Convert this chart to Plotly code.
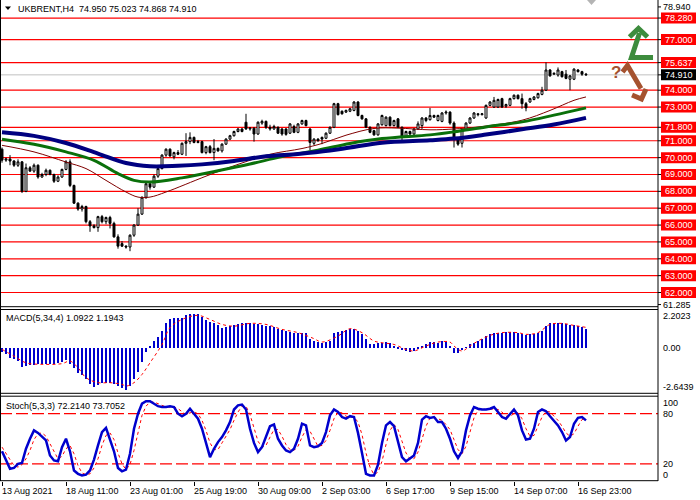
import plotly.graph_objects as go

W, H = 700, 500
FONT = 'Liberation Sans, Arial, sans-serif'

# UKBRENT H4 (O, H, L, C)
opens = [70.50, 69.85, 69.92, 69.80, 69.55, 69.75, 68.00, 69.40, 69.20, 69.55,
         68.85, 69.00, 69.25, 69.00, 68.60, 68.85, 69.30, 69.75, 68.35, 67.30,
         66.95, 67.10, 66.20, 65.95, 65.85, 66.50, 66.20, 66.45, 66.10, 65.30,
         64.90, 64.75, 64.70, 65.40, 66.00, 66.65, 67.65, 68.45, 68.25, 68.90,
         69.35, 70.15, 70.50, 70.05, 70.30, 70.20, 70.85, 70.95, 71.20, 70.90,
         70.95, 70.30, 70.65, 70.30, 70.55, 70.40, 70.80, 71.10, 71.30, 71.55,
         71.70, 72.10, 71.70, 71.75, 71.40, 72.05, 72.15, 71.80, 71.70, 71.80,
         71.70, 71.70, 71.45, 71.85, 71.50, 72.00, 72.20, 71.70, 70.85, 71.10,
         71.20, 71.15, 71.45, 71.80, 73.20, 72.75, 72.70, 72.75, 72.80, 73.30,
         72.50, 72.30, 71.80, 71.60, 71.35, 71.95, 71.90, 72.40, 71.90, 72.30,
         71.80, 71.25, 71.55, 71.40, 71.70, 71.90, 72.35, 72.25, 72.50, 72.20,
         72.15, 72.65, 72.70, 72.05, 71.10, 70.85, 71.65, 72.05, 72.35, 72.60,
         72.55, 72.35, 73.10, 73.00, 73.00, 73.50, 73.05, 73.10, 73.50, 73.70,
         73.50, 73.20, 73.30, 73.45, 73.55, 73.75, 74.00, 75.20, 74.95, 74.90,
         75.10, 74.95, 74.65, 74.65, 75.20, 75.10, 74.950]
highs = [70.60, 70.00, 70.15, 69.85, 69.90, 69.80, 69.65, 69.50, 69.65, 69.60,
         69.10, 69.35, 69.30, 69.05, 68.95, 69.35, 69.85, 69.90, 68.40, 67.35,
         67.20, 67.15, 66.30, 66.05, 66.55, 66.60, 66.50, 66.55, 66.20, 65.45,
         65.05, 64.80, 65.45, 66.05, 67.00, 67.70, 68.50, 68.60, 69.00, 69.40,
         70.20, 70.55, 70.55, 70.35, 70.45, 70.90, 71.45, 71.50, 71.25, 71.05,
         71.00, 70.70, 70.75, 71.10, 70.60, 70.85, 71.15, 71.35, 71.60, 71.75,
         71.75, 72.60, 71.80, 71.80, 72.15, 72.25, 72.20, 71.95, 71.95, 71.85,
         71.75, 71.75, 72.05, 71.95, 72.05, 72.25, 72.25, 71.75, 71.15, 71.15,
         71.25, 71.50, 71.85, 73.25, 73.25, 72.80, 72.85, 72.95, 73.35, 73.35,
         72.55, 72.35, 71.85, 71.65, 72.05, 72.55, 72.45, 72.45, 72.25, 72.35,
         71.85, 71.60, 71.60, 71.75, 72.15, 72.40, 72.40, 72.95, 72.55, 72.55,
         72.70, 72.80, 72.75, 72.15, 71.15, 71.70, 72.10, 72.40, 72.70, 72.65,
         72.65, 73.15, 73.35, 73.60, 73.50, 73.55, 73.20, 73.55, 73.75, 73.75,
         73.80, 73.30, 73.55, 73.65, 73.85, 74.20, 75.65, 75.25, 75.05, 75.35,
         75.15, 75.20, 74.90, 75.30, 75.25, 75.15, 75.023]
lows = [69.70, 69.75, 69.55, 69.45, 69.45, 67.90, 67.95, 69.15, 69.10, 68.75,
        68.80, 68.90, 68.95, 68.50, 68.55, 68.80, 69.25, 68.25, 67.25, 66.85,
        66.80, 66.10, 65.60, 65.80, 65.60, 66.10, 66.05, 65.80, 65.25, 64.60,
        64.70, 64.60, 64.45, 65.30, 65.95, 66.60, 67.55, 68.10, 68.20, 68.80,
        69.30, 70.05, 70.05, 69.90, 70.15, 70.15, 70.10, 70.80, 70.85, 70.85,
        70.25, 70.20, 70.25, 69.85, 70.35, 70.30, 70.75, 71.05, 71.25, 71.50,
        71.50, 71.65, 71.60, 70.95, 71.35, 71.95, 71.70, 71.60, 71.65, 71.40,
        71.30, 71.30, 71.40, 71.45, 71.45, 71.95, 71.85, 70.45, 70.75, 70.95,
        70.80, 71.10, 71.40, 71.75, 72.50, 72.55, 72.65, 72.70, 72.75, 72.45,
        72.25, 71.75, 71.45, 71.30, 71.30, 71.90, 71.85, 71.85, 71.85, 71.75,
        70.90, 71.20, 71.35, 71.35, 71.65, 71.70, 72.10, 72.20, 72.35, 72.15,
        72.10, 72.55, 71.95, 70.60, 70.70, 70.60, 71.60, 72.00, 72.30, 72.45,
        72.50, 72.30, 73.05, 72.95, 72.95, 72.95, 72.95, 73.05, 73.45, 73.45,
        72.90, 72.75, 73.25, 73.40, 73.50, 73.70, 73.95, 74.80, 74.90, 74.80,
        74.75, 74.65, 74.00, 74.60, 75.05, 74.85, 74.868]
closes = [69.85, 69.92, 69.80, 69.55, 69.75, 68.00, 69.40, 69.20, 69.55, 68.85,
          69.00, 69.25, 69.00, 68.60, 68.85, 69.30, 69.75, 68.35, 67.30, 66.95,
          67.10, 66.20, 65.95, 65.85, 66.50, 66.20, 66.45, 66.10, 65.30, 64.75,
          64.75, 64.70, 65.40, 66.00, 66.65, 67.65, 68.45, 68.25, 68.90, 69.35,
          70.15, 70.50, 70.10, 70.30, 70.20, 70.85, 70.95, 71.20, 70.90, 70.95,
          70.30, 70.65, 70.30, 70.55, 70.40, 70.80, 71.10, 71.30, 71.55, 71.70,
          71.55, 71.70, 71.75, 71.40, 72.10, 72.15, 71.80, 71.70, 71.85, 71.45,
          71.40, 71.38, 72.00, 71.50, 72.00, 72.20, 71.90, 70.90, 71.10, 71.00,
          71.10, 71.45, 71.80, 73.20, 72.55, 72.60, 72.80, 72.90, 73.30, 72.50,
          72.30, 71.80, 71.50, 71.35, 72.00, 72.50, 72.40, 71.90, 72.20, 71.80,
          71.25, 71.55, 71.40, 71.70, 72.00, 72.35, 72.20, 72.50, 72.40, 72.50,
          72.65, 72.70, 72.05, 71.10, 70.80, 71.65, 72.05, 72.35, 72.65, 72.55,
          72.60, 73.10, 73.30, 73.40, 73.45, 73.00, 73.15, 73.50, 73.70, 73.50,
          73.20, 72.95, 73.50, 73.60, 73.80, 74.00, 75.20, 74.85, 75.00, 75.20,
          74.80, 74.70, 74.85, 75.25, 75.10, 74.95, 74.910]

# médias móveis (pontos lidos ao longo das curvas)
ma_slow_idx = [0, 8, 16, 24, 31, 37, 44, 50, 58, 66, 74, 82, 87, 95, 107, 113, 121, 130, 138, 146]
ma_slow = [71.50, 71.29, 70.87, 70.24, 69.68, 69.49, 69.52, 69.60, 69.80, 70.08,
           70.22, 70.42, 70.60, 70.88, 71.03, 71.13, 71.37, 71.68, 71.96, 72.36]
ma_mid_idx = [0, 8, 16, 23, 29, 33, 37, 45, 54, 62, 70, 79, 87, 95, 107, 113, 121, 130, 138, 146]
ma_mid = [71.09, 70.79, 70.34, 69.84, 69.05, 68.65, 68.55, 68.80, 69.22, 69.62,
          70.06, 70.44, 70.84, 71.13, 71.35, 71.53, 71.82, 72.12, 72.52, 72.95]
ma_fast_idx = [0, 8, 16, 21, 26, 31, 34, 37, 41, 51, 59, 67, 75, 80, 86, 93, 99,
               107, 113, 119, 130, 137, 143, 146]
ma_fast = [70.73, 70.34, 69.74, 69.35, 68.65, 67.96, 67.66, 67.66, 67.96, 68.90,
           69.60, 70.20, 70.54, 70.84, 71.33, 71.73, 71.75, 71.65, 71.70, 71.82,
           72.22, 72.80, 73.40, 73.60]

# MACD(5,34,4)
macd_hist = [-0.25, -0.39, -0.58, -0.68, -0.78, -1.11, -1.07, -0.99, -0.99, -0.97,
             -0.97, -0.93, -0.97, -0.97, -0.91, -0.84, -0.74, -0.97, -1.21, -1.46,
             -1.61, -1.85, -2.14, -2.28, -2.20, -2.08, -2.08, -2.04, -2.14, -2.24,
             -2.33, -2.47, -2.24, -1.85, -1.42, -0.84, -0.25, 0.10, 0.39, 0.64,
             0.97, 1.42, 1.65, 1.71, 1.71, 1.75, 1.89, 1.95, 1.98, 1.95,
             1.81, 1.61, 1.50, 1.42, 1.30, 1.17, 1.23, 1.26, 1.34, 1.40,
             1.42, 1.42, 1.42, 1.40, 1.36, 1.30, 1.26, 1.26, 1.23, 1.11,
             1.03, 0.97, 0.91, 0.88, 0.88, 0.88, 0.84, 0.49, 0.39, 0.33,
             0.29, 0.33, 0.39, 0.84, 0.93, 0.97, 1.03, 1.11, 1.07, 0.97,
             0.78, 0.49, 0.19, 0.23, 0.29, 0.29, 0.33, 0.29, 0.10, -0.10,
             -0.14, -0.19, -0.25, -0.19, -0.06, 0.10, 0.23, 0.33, 0.33, 0.29,
             0.39, 0.33, 0.06, -0.29, -0.29, -0.14, 0.04, 0.23, 0.29, 0.39,
             0.53, 0.68, 0.82, 0.88, 0.84, 0.88, 0.91, 0.93, 0.91, 0.88,
             0.78, 0.72, 0.78, 0.82, 0.88, 0.97, 1.26, 1.42, 1.42, 1.46,
             1.42, 1.38, 1.34, 1.30, 1.26, 1.23, 1.09]
macd_sig_idx = [0, 3, 6, 10, 15, 17, 19, 21, 24, 27, 30, 31, 33, 35, 37, 40, 42, 45,
                49, 52, 55, 58, 62, 66, 70, 74, 78, 80, 84, 87, 90, 93, 95, 98, 101,
                103, 106, 109, 112, 113, 115, 117, 119, 122, 125, 129, 131, 134, 137,
                140, 143, 146]
macd_sig = [-0.10, -0.49, -0.88, -0.97, -0.93, -0.78, -1.17, -1.75, -2.04, -2.04,
            -2.14, -2.24, -2.04, -1.56, -0.88, 0.19, 1.17, 1.65, 1.89, 1.65,
            1.36, 1.26, 1.42, 1.36, 1.07, 0.88, 0.53, 0.33, 0.68, 1.11,
            0.88, 0.39, 0.29, 0.19, -0.10, -0.19, 0.10, 0.33, 0.33, 0.10,
            -0.19, 0.10, 0.39, 0.72, 0.88, 0.88, 0.78, 0.88, 1.36, 1.42,
            1.30, 1.19]

# Stoch(5,3,3)
stoch_main = [35, 25, 14, 15, 20, 21, 38, 50, 60, 57,
              53, 48, 30, 24, 23, 40, 50, 35, 12, 8,
              6, 7, 12, 25, 42, 58, 63, 50, 35, 15,
              11, 13, 32, 62, 80, 92, 95, 95, 92, 89,
              88, 88, 89, 88, 80, 77, 80, 86, 80, 74,
              62, 45, 28, 38, 46, 52, 60, 70, 85, 90,
              91, 85, 62, 45, 34, 40, 52, 65, 67, 50,
              42, 36, 34, 38, 50, 68, 66, 42, 40, 41,
              45, 58, 78, 85, 82, 76, 74, 77, 76, 57,
              33, 8, 6, 6, 19, 45, 66, 70, 65, 48,
              28, 23, 26, 30, 45, 73, 77, 75, 76, 70,
              70, 62, 50, 35, 27, 35, 60, 78, 88, 86,
              85, 85, 86, 88, 82, 76, 74, 80, 85, 78,
              60, 49, 50, 62, 82, 85, 83, 77, 72, 66,
              58, 48, 52, 68, 75, 76, 72]
stoch_sig = [40, 32, 25, 18, 16, 19, 26, 36, 49, 56,
             57, 53, 44, 34, 26, 29, 38, 42, 32, 18,
             9, 7, 8, 15, 26, 42, 54, 57, 49, 33,
             20, 13, 19, 36, 58, 78, 89, 94, 94, 92,
             90, 88, 88, 88, 86, 82, 79, 81, 82, 80,
             72, 60, 45, 37, 37, 45, 53, 61, 72, 82,
             89, 89, 79, 64, 47, 40, 42, 52, 61, 61,
             53, 43, 37, 36, 41, 52, 61, 59, 49, 41,
             42, 48, 60, 74, 82, 81, 77, 76, 76, 70,
             55, 33, 16, 7, 10, 23, 43, 60, 67, 61,
             47, 33, 26, 26, 34, 49, 65, 75, 76, 74,
             72, 67, 61, 49, 37, 32, 41, 58, 75, 84,
             86, 85, 85, 86, 85, 82, 77, 77, 80, 81,
             74, 62, 53, 54, 65, 76, 83, 82, 77, 72,
             65, 57, 53, 56, 65, 73, 74]

levels = [78.28, 77.0, 75.637, 74.0, 73.0, 71.8, 71.0, 70.0, 69.0, 68.0,
          67.0, 66.0, 65.0, 64.0, 63.0, 62.0]
last_price = 74.91
price_top, price_bottom = 78.94, 61.285
macd_max, macd_min = 2.2023, -2.6439

tick_idx = [0, 16, 32, 48, 64, 80, 96, 112, 128, 144]
tick_labels = ['13 Aug 2021', '18 Aug 11:00', '23 Aug 01:00', '25 Aug 19:00',
               '30 Aug 09:00', '2 Sep 03:00', '6 Sep 17:00', '9 Sep 15:00',
               '14 Sep 07:00', '16 Sep 23:00']

bars = list(range(len(closes)))

AX = 658  # linha do eixo de preços (px)


def fx(x):
    return x / W


def fy(y):
    return 1 - y / H


def path(pts):
    return 'M ' + ' L '.join(f'{fx(x):.4f},{fy(y):.4f}' for x, y in pts)


fig = go.Figure()

fig.add_trace(go.Candlestick(
    x=bars, open=opens, high=highs, low=lows, close=closes,
    increasing=dict(line=dict(color='black', width=1), fillcolor='white'),
    decreasing=dict(line=dict(color='black', width=1), fillcolor='black'),
    whiskerwidth=0, hoverinfo='skip', xaxis='x', yaxis='y'))
fig.add_trace(go.Scatter(x=ma_fast_idx, y=ma_fast, mode='lines',
                         line=dict(color='#800000', width=1, shape='spline'), xaxis='x', yaxis='y'))
fig.add_trace(go.Scatter(x=ma_mid_idx, y=ma_mid, mode='lines',
                         line=dict(color='#0a700a', width=3, shape='spline'), xaxis='x', yaxis='y'))
fig.add_trace(go.Scatter(x=ma_slow_idx, y=ma_slow, mode='lines',
                         line=dict(color='#000080', width=4, shape='spline'), xaxis='x', yaxis='y'))

fig.add_trace(go.Bar(x=bars, y=macd_hist, width=0.72, marker=dict(color='#0000CD', line=dict(width=0)),
                     xaxis='x2', yaxis='y2'))
fig.add_trace(go.Scatter(x=macd_sig_idx, y=macd_sig, mode='lines',
                         line=dict(color='red', width=1, dash='dot', shape='spline'), xaxis='x2', yaxis='y2'))

fig.add_trace(go.Scatter(x=bars, y=stoch_sig, mode='lines',
                         line=dict(color='red', width=1, dash='dot'), xaxis='x3', yaxis='y3'))
fig.add_trace(go.Scatter(x=bars, y=stoch_main, mode='lines',
                         line=dict(color='#0000CD', width=2.5), xaxis='x3', yaxis='y3'))

shapes = []
ann = []

# linhas horizontais (níveis)
for v in levels:
    shapes.append(dict(type='line', xref='paper', x0=0, x1=fx(AX), yref='y', y0=v, y1=v,
                       line=dict(color='red', width=1.2), layer='below'))
shapes.append(dict(type='line', xref='paper', x0=0, x1=fx(AX), yref='y', y0=last_price, y1=last_price,
                   line=dict(color='#c0c0c0', width=1), layer='below'))
for v in (80, 20):
    shapes.append(dict(type='line', xref='paper', x0=0, x1=fx(AX), yref='y3', y0=v, y1=v,
                       line=dict(color='red', width=1.2, dash='12px,4px'), layer='below'))

# molduras dos painéis
for yy in (306.7, 309.5, 393.3, 396.2, 480.7):
    shapes.append(dict(type='line', xref='paper', yref='paper', x0=0, x1=fx(AX), y0=fy(yy), y1=fy(yy),
                       line=dict(color='black', width=1)))
for xx in (0.5, AX):
    shapes.append(dict(type='line', xref='paper', yref='paper', x0=fx(xx), x1=fx(xx), y0=fy(0), y1=fy(481),
                       line=dict(color='black', width=1)))


def tag(v, text, bg):
    shapes.append(dict(type='rect', xref='paper', x0=fx(661), x1=fx(696), yref='y',
                       ysizemode='pixel', yanchor=v, y0=-5.5, y1=5.5,
                       fillcolor=bg, line=dict(width=0)))
    ann.append(dict(xref='paper', x=fx(678.5), yref='y', y=v, text=text, showarrow=False,
                    xanchor='center', yanchor='middle', font=dict(color='white', size=9, family=FONT)))


def tick(v, yref):
    shapes.append(dict(type='line', xref='paper', x0=fx(AX), x1=fx(661), yref=yref, y0=v, y1=v,
                       line=dict(color='black', width=1)))


def label(v, yref, text, shift=0):
    ann.append(dict(xref='paper', x=fx(661), yref=yref, y=v, yshift=shift, text=text, showarrow=False,
                    xanchor='left', yanchor='middle', font=dict(color='black', size=9, family=FONT)))


for v in levels:
    tick(v, 'y')
    tag(v, f'{v:.3f}', '#ff0000')
tick(last_price, 'y')
tag(last_price, f'{last_price:.3f}', 'black')
for v in (price_top, price_bottom):
    tick(v, 'y')
    label(v, 'y', f'{v:.3f}')

label(macd_max, 'y2', f'{macd_max:.4f}', -6)
label(0, 'y2', '0.00')
label(macd_min, 'y2', f'{macd_min:.4f}', 6)
label(100, 'y3', '100', -6)
label(80, 'y3', '80')
label(20, 'y3', '20')
label(0, 'y3', '0', 6)

# eixo do tempo
for i, t in zip(tick_idx, tick_labels):
    ann.append(dict(xref='x3', x=i, xshift=-2, yref='paper', y=fy(490.5), text=t, showarrow=False,
                    xanchor='left', yanchor='middle', font=dict(color='black', size=9, family=FONT)))

# títulos
ann.append(dict(xref='paper', x=fx(16), yref='paper', y=fy(8.5), text='UKBRENT,H4  74.950 75.023 74.868 74.910',
                showarrow=False, xanchor='left', yanchor='middle', font=dict(color='black', size=9, family=FONT)))
shapes.append(dict(type='path', xref='paper', yref='paper', path=path([(5, 6.5), (11, 6.5), (8, 10)]) + ' Z',
                   fillcolor='black', line=dict(width=0)))
ann.append(dict(xref='paper', x=fx(4), yref='paper', y=fy(318), text='MACD(5,34,4) 1.0922 1.1943',
                showarrow=False, xanchor='left', yanchor='middle', font=dict(color='black', size=9, family=FONT)))
ann.append(dict(xref='paper', x=fx(4), yref='paper', y=fy(405.5), text='Stoch(5,3,3) 72.2140 73.7052',
                showarrow=False, xanchor='left', yanchor='middle', font=dict(color='black', size=9, family=FONT)))

# marcador de deslocamento do gráfico
shapes.append(dict(type='path', xref='paper', yref='paper', path=path([(587, 0), (596, 0), (591.5, 5)]) + ' Z',
                   fillcolor='#b4b4b4', line=dict(width=0)))

# setas de cenário
green = '#3d8c3d'
brown = '#a5522f'
shapes.append(dict(type='path', xref='paper', yref='paper', path=path([(629.5, 37), (638.5, 28.5), (647.5, 37)]),
                   line=dict(color=green, width=5)))
shapes.append(dict(type='path', xref='paper', yref='paper', path=path([(639.5, 33), (631.5, 57.5), (653, 57.5)]),
                   line=dict(color=green, width=5)))
shapes.append(dict(type='path', xref='paper', yref='paper', path=path([(622.5, 72), (627.5, 65.5), (641, 88.5)]),
                   line=dict(color=brown, width=5)))
shapes.append(dict(type='path', xref='paper', yref='paper', path=path([(632, 95), (641.5, 99), (646, 89)]),
                   line=dict(color=brown, width=5)))
ann.append(dict(xref='paper', x=fx(616), yref='paper', y=fy(72), text='<b>?</b>', showarrow=False,
                xanchor='center', yanchor='middle', font=dict(color=brown, size=17, family=FONT)))

xdom = [0, fx(AX)]
xr = [-0.5, 164]
fig.update_layout(
    width=W, height=H, margin=dict(l=0, r=0, t=0, b=0),
    paper_bgcolor='white', plot_bgcolor='white', showlegend=False,
    xaxis=dict(domain=xdom, range=xr, anchor='y', visible=False, rangeslider=dict(visible=False)),
    xaxis2=dict(domain=xdom, range=xr, anchor='y2', visible=False, matches='x'),
    xaxis3=dict(domain=xdom, range=xr, anchor='y3', matches='x', showgrid=False, zeroline=False,
                showline=False, showticklabels=False, ticks='outside', ticklen=4, tickcolor='black',
                tickvals=tick_idx),
    yaxis=dict(domain=[fy(306.5), 1], range=[61.17, 79.35], visible=False),
    yaxis2=dict(domain=[fy(393), fy(310)], range=[macd_min, macd_max], visible=False),
    yaxis3=dict(domain=[fy(480.5), fy(397)], range=[0, 100], visible=False),
    shapes=shapes, annotations=ann, bargap=0,
)

# sem margem no corpo da página, para o gráfico ocupar a janela inteira
fig.write_html("out.html", config={'displayModeBar': False},
               post_script="document.body.style.margin='0';document.body.style.overflow='hidden';")
